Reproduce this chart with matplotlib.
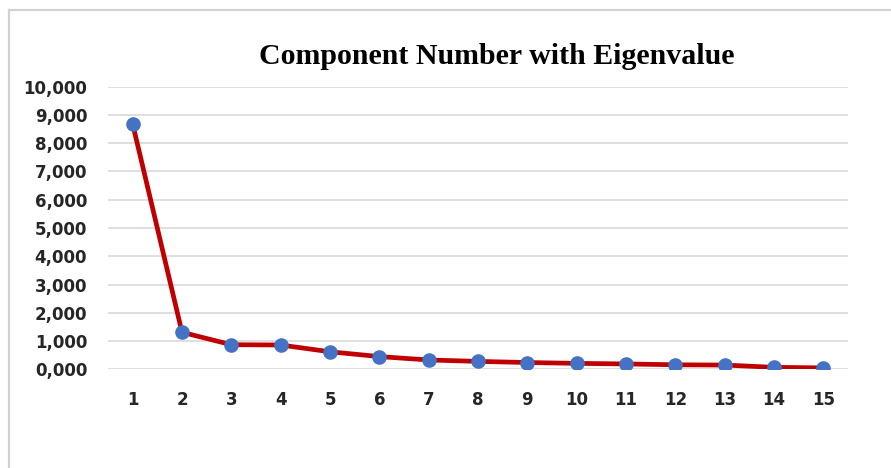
import matplotlib.pyplot as plt
from matplotlib.lines import Line2D
from matplotlib.ticker import FuncFormatter

# Data (eigenvalues per component)
components = list(range(1, 16))
eigenvalues = [8.68, 1.31, 0.87, 0.86, 0.62, 0.45, 0.33, 0.28, 0.24, 0.21,
               0.19, 0.16, 0.15, 0.07, 0.05]
y_ticks = list(range(0, 11))

W, H = 891, 468
fig = plt.figure(figsize=(W / 100, H / 100), dpi=100)

# light grey frame on top and left edges
fig.add_artist(Line2D([9 / W, 1], [1 - 10 / H, 1 - 10 / H], color='#d2d2d2', lw=1.6))
fig.add_artist(Line2D([9 / W, 9 / W], [0, 1 - 10 / H], color='#d2d2d2', lw=1.6))

ax = fig.add_axes([108 / W, (H - 369.3) / H, 740 / W, (369.3 - 86.7) / H])
ax.plot(components, eigenvalues, color='#c00000', lw=3.4, zorder=3,
        marker='o', markersize=9.5, markerfacecolor='#4472c4',
        markeredgecolor='#4472c4')

ax.set_xlim(0.5, 15.5)
ax.set_ylim(0, 10)
ax.set_xticks(components)
ax.set_yticks(y_ticks)
# decimal comma, as in the original
ax.yaxis.set_major_formatter(FuncFormatter(lambda v, p: f"{v:.3f}".replace('.', ',')))
ax.yaxis.grid(True, color='#d9d9d9', lw=1.2)
ax.set_axisbelow(True)
for s in ax.spines.values():
    s.set_visible(False)
ax.tick_params(length=0, labelsize=12)
ax.tick_params(axis='y', pad=15)
ax.tick_params(axis='x', pad=15.5)
for lbl in ax.get_xticklabels() + ax.get_yticklabels():
    lbl.set_fontweight('bold')
    lbl.set_color('#262626')

fig.text(497 / W, 1 - 56 / H, 'Component Number with Eigenvalue',
         ha='center', va='center', fontsize=21.5, fontweight='bold',
         family='Liberation Serif')

fig.savefig('out.png', dpi=100)
